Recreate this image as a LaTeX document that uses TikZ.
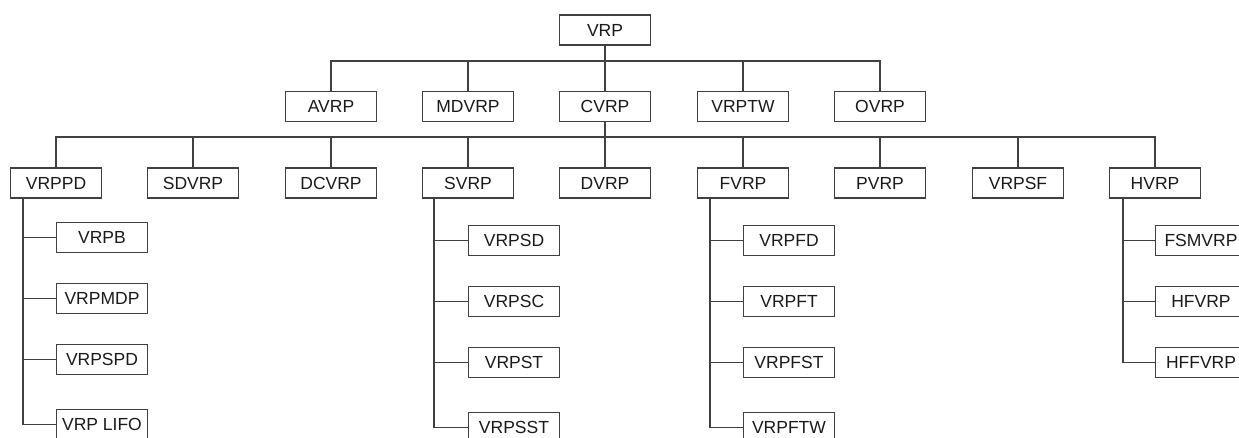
\documentclass[tikz,border=0pt]{standalone}
\usepackage{fontspec}
\setmainfont{Liberation Sans}
\definecolor{linec}{HTML}{404040}
\definecolor{textc}{HTML}{1A1A1A}
\begin{document}
\begin{tikzpicture}[x=1pt,y=-1pt,
  box/.style={draw=linec, line width=1.8pt, fill=white, minimum width=91pt, minimum height=30pt, inner sep=0pt, font=\fontsize{17.5}{19}\selectfont, text=textc},
  conn/.style={draw=linec, line width=1.8pt, line join=miter}]
\useasboundingbox (0,0) rectangle (1239,438);
\fill[white] (0,0) rectangle (1239,438);
\clip (0,0) rectangle (1239,438);

% root
\node[box] (VRP) at (605,30) {VRP};
% level 1
\node[box] (AVRP)  at (331,106.5) {AVRP};
\node[box] (MDVRP) at (468,106.5) {MDVRP};
\node[box] (CVRP)  at (605,106.5) {CVRP};
\node[box] (VRPTW) at (743,106.5) {VRPTW};
\node[box] (OVRP)  at (880,106.5) {OVRP};
% level 2
\node[box] (VRPPD) at (56,183) {VRPPD};
\node[box] (SDVRP) at (193,183) {SDVRP};
\node[box] (DCVRP) at (331,183) {DCVRP};
\node[box] (SVRP)  at (468,183) {SVRP};
\node[box] (DVRP)  at (605,183) {DVRP};
\node[box] (FVRP)  at (743,183) {FVRP};
\node[box] (PVRP)  at (880,183) {PVRP};
\node[box] (VRPSF) at (1018,183) {VRPSF};
\node[box] (HVRP)  at (1155,183) {HVRP};
% VRPPD children
\node[box] (VRPB)   at (102,237.5) {VRPB};
\node[box] (VRPMDP) at (102,298.5) {VRPMDP};
\node[box] (VRPSPD) at (102,359.5) {VRPSPD};
\node[box] (LIFO)   at (102,424.5) {VRP LIFO};
% SVRP children
\node[box] (VRPSD)  at (514,240.5) {VRPSD};
\node[box] (VRPSC)  at (514,301.5) {VRPSC};
\node[box] (VRPST)  at (514,362.5) {VRPST};
\node[box] (VRPSST) at (514,427.5) {VRPSST};
% FVRP children
\node[box] (VRPFD)  at (789,240.5) {VRPFD};
\node[box] (VRPFT)  at (789,301.5) {VRPFT};
\node[box] (VRPFST) at (789,362.5) {VRPFST};
\node[box] (VRPFTW) at (789,427.5) {VRPFTW};
% HVRP children
\node[box] (FSMVRP) at (1201,240.5) {FSMVRP};
\node[box] (HFVRP)  at (1201,301.5) {HFVRP};
\node[box] (HFFVRP) at (1201,362.5) {HFFVRP};

% buses
\coordinate (b1) at (605,61);
\coordinate (b2) at (605,137);
\draw[conn] (VRP.south) -- (b1);
\foreach \n in {AVRP,MDVRP,CVRP,VRPTW,OVRP} \draw[conn] (\n.north) |- (b1);
\draw[conn] (CVRP.south) -- (b2);
\foreach \n in {VRPPD,SDVRP,DCVRP,SVRP,DVRP,FVRP,PVRP,VRPSF,HVRP} \draw[conn] (\n.north) |- (b2);

% child spines
\coordinate (t1) at (23,0);
\coordinate (t2) at (434,0);
\coordinate (t3) at (710,0);
\coordinate (t4) at (1123,0);
\draw[conn] (VRPPD.south -| t1) |- (LIFO.west);
\foreach \n in {VRPB,VRPMDP,VRPSPD} \draw[conn] (\n.west) -- (\n.west -| t1);
\draw[conn] (SVRP.south -| t2) |- (VRPSST.west);
\foreach \n in {VRPSD,VRPSC,VRPST} \draw[conn] (\n.west) -- (\n.west -| t2);
\draw[conn] (FVRP.south -| t3) |- (VRPFTW.west);
\foreach \n in {VRPFD,VRPFT,VRPFST} \draw[conn] (\n.west) -- (\n.west -| t3);
\draw[conn] (HVRP.south -| t4) |- (HFFVRP.west);
\foreach \n in {FSMVRP,HFVRP} \draw[conn] (\n.west) -- (\n.west -| t4);
\end{tikzpicture}
\end{document}
